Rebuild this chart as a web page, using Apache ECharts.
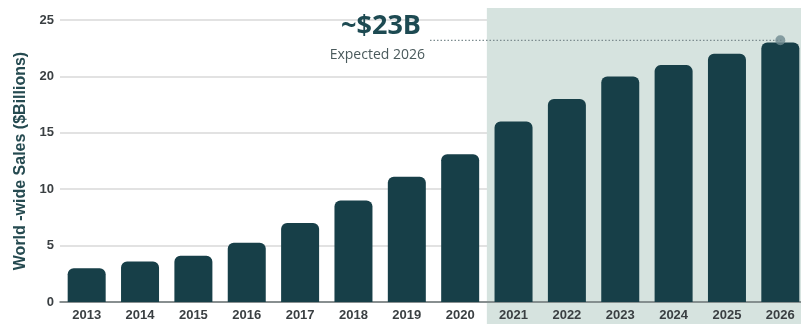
<!DOCTYPE html>
<html><head><meta charset="utf-8">
<script src="https://cdn.jsdelivr.net/npm/echarts@6/dist/echarts.min.js"></script>
<style>html,body{margin:0;padding:0;background:#fff}#c{width:801px;height:324px}</style>
</head><body><div id="c"></div>
<script>
const years = ['2013','2014','2015','2016','2017','2018','2019','2020','2021','2022','2023','2024','2025','2026'];
const sales = [3.0, 3.6, 4.1, 5.25, 7.0, 9.0, 11.1, 13.1, 16.0, 18.0, 20.0, 21.0, 22.0, 23.0];
const yTicks = [0, 5, 10, 15, 20, 25];
const forecastStart = '2021';
const expectedValue = 23.2;
const expectedLabel = '~$23B';
const expectedSub = 'Expected 2026';

const chart = echarts.init(document.getElementById('c'));
const option = {
  animation: false,
  grid: { left: 60, width: 747, top: 20, bottom: 22, containLabel: false, outerBoundsMode: 'none' },
  xAxis: {
    type: 'category', data: years,
    axisLine: { show: true, lineStyle: { color: '#6b7476', width: 1.5 } },
    axisTick: { show: false },
    axisLabel: { color: '#3a3f42', fontWeight: 'bold', fontSize: 13, fontFamily: 'Arial, Liberation Sans', margin: 7 }
  },
  yAxis: {
    type: 'value', min: yTicks[0], max: yTicks[yTicks.length - 1], interval: 5,
    name: 'World -wide Sales ($Billions)', nameLocation: 'middle', nameGap: 31,
    nameTextStyle: { color: '#254a50', fontWeight: 'bold', fontSize: 16, fontFamily: 'Arial, Liberation Sans' },
    axisLine: { show: false }, axisTick: { show: false },
    axisLabel: { color: '#3a3f42', fontWeight: 'bold', fontSize: 13, fontFamily: 'Arial, Liberation Sans', margin: 6 },
    splitLine: { lineStyle: { color: '#d9d9d9', width: 1.5 } }
  },
  series: [{
    type: 'bar', data: sales, barWidth: 38, z: 3,
    itemStyle: { color: '#173f48', borderRadius: [6, 6, 0, 0] }
  }, {
    type: 'scatter', data: [[years[years.length - 1], expectedValue]], symbolSize: 10, z: 5,
    itemStyle: { color: '#6f8a90' }
  }]
};
chart.setOption(option);

const xStart = chart.convertToPixel({ xAxisIndex: 0 }, forecastStart);
const xPrev = chart.convertToPixel({ xAxisIndex: 0 }, years[years.indexOf(forecastStart) - 1]);
const shadeLeft = (xStart + xPrev) / 2;
const lastPt = chart.convertToPixel({ seriesIndex: 1 }, [years[years.length - 1], expectedValue]);
const yTop = chart.convertToPixel({ yAxisIndex: 0 }, yTicks[yTicks.length - 1]);

chart.setOption({
  graphic: [
    { type: 'rect', z: 0, zlevel: 0, silent: true,
      shape: { x: shadeLeft, y: yTop - 12, width: 801 - shadeLeft, height: 324 - (yTop - 12) },
      style: { fill: '#d6e3df' } },
    { type: 'line', z: 4, silent: true,
      shape: { x1: 430, y1: lastPt[1], x2: lastPt[0] + 3, y2: lastPt[1] },
      style: { stroke: '#7d8c8f', lineWidth: 1.2, lineDash: [1.5, 2] } },
    { type: 'text', z: 5, silent: true, x: 421, y: lastPt[1] - 14,
      style: { text: expectedLabel, fill: '#1d4a52', font: 'bold 27px "Open Sans", Arial', textAlign: 'right', textVerticalAlign: 'middle' } },
    { type: 'text', z: 5, silent: true, x: 425, y: lastPt[1] + 15,
      style: { text: expectedSub, fill: '#4a5a5c', font: '14px "Open Sans", Arial', textAlign: 'right', textVerticalAlign: 'middle' } }
  ]
});
</script></body></html>
